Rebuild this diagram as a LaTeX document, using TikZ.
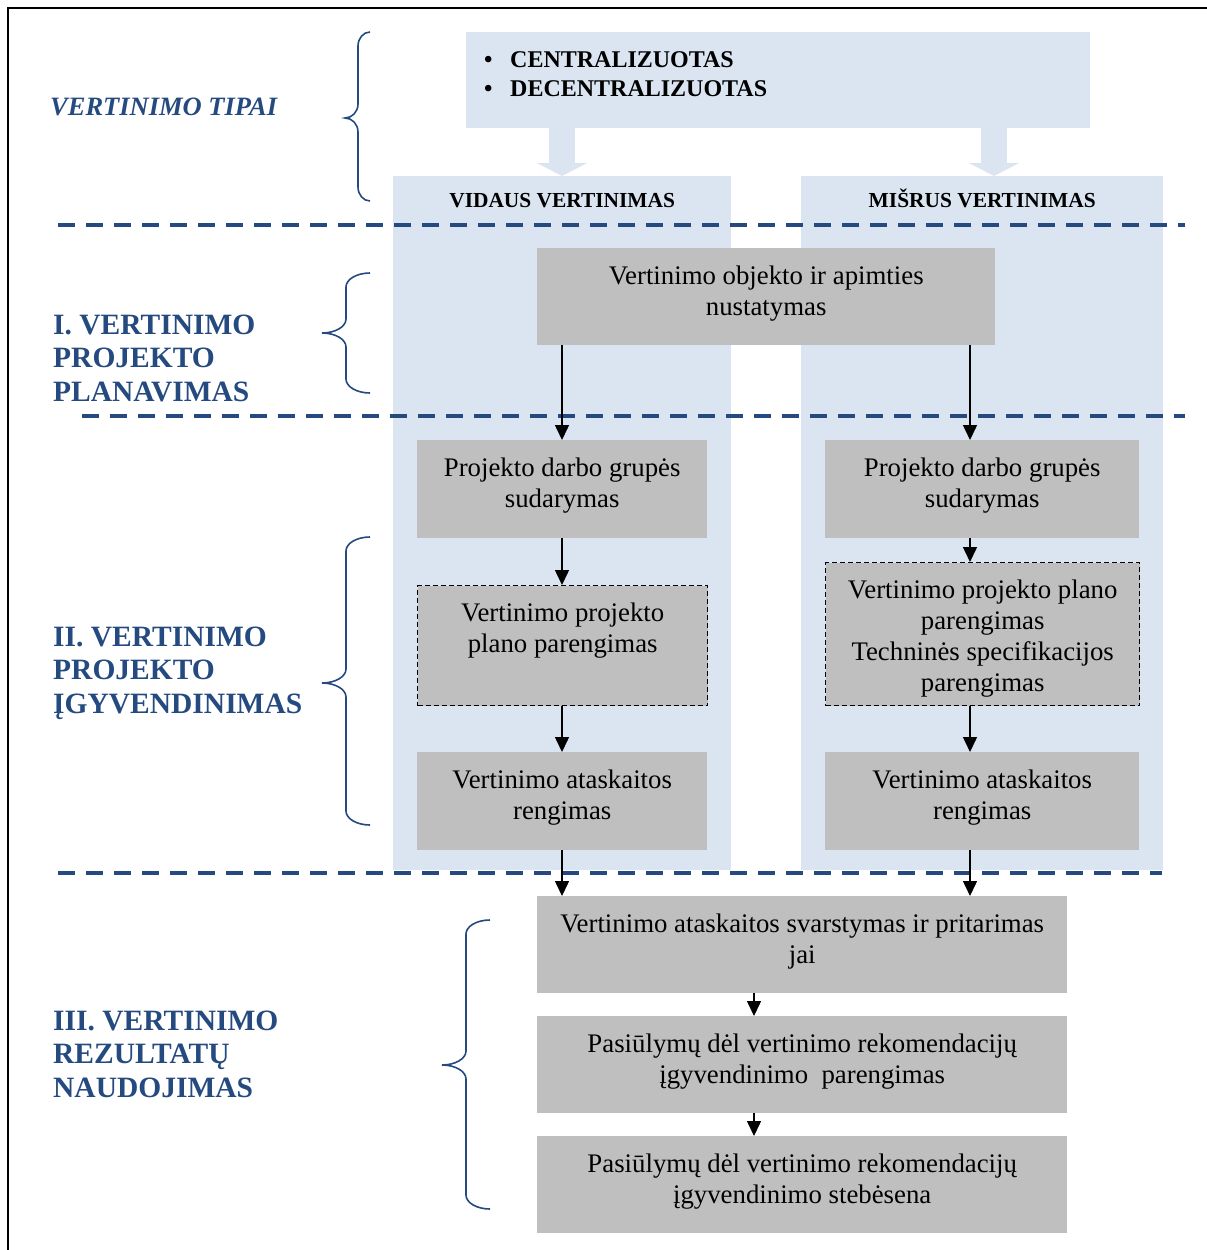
\documentclass[tikz,border=0pt]{standalone}
\usepackage{fontspec}
\setmainfont{Liberation Serif}
\usetikzlibrary{arrows.meta}
\definecolor{lb}{RGB}{219,229,241}
\definecolor{gr}{RGB}{191,191,191}
\definecolor{db}{RGB}{36,74,128}
\newcommand{\bodyfont}{\fontsize{26.8}{31}\selectfont}
\newcommand{\bxt}[3]{\parbox[t][#2][t]{#1}{\centering\bodyfont\rule{0pt}{36pt}#3\par}}
\newcommand{\mybrace}[6]{%
  \draw[brc] (#1,#4) .. controls ({#1-0.552*(#1-#2)},#4) and (#2,{#4+0.448*14}) .. (#2,{#4+14})
   -- (#2,{#5-14}) .. controls (#2,{#5-14+0.552*14}) and ({#3+0.552*(#2-#3)},#5) .. (#3,#5)
   .. controls ({#3+0.552*(#2-#3)},#5) and (#2,{#5+14-0.552*14}) .. (#2,{#5+14})
   -- (#2,{#6-14}) .. controls (#2,{#6-0.448*14}) and ({#1-0.552*(#1-#2)},#6) .. (#1,#6);}
\tikzset{
  gbox/.style={fill=gr, inner sep=0pt, anchor=north west},
  dbox/.style={gbox, draw=black, line width=1.4pt, dash pattern=on 5pt off 3pt},
  colbg/.style={fill=lb, inner sep=0pt, anchor=north west},
  arr/.style={line width=1.5pt, -{Triangle[width=14pt,length=15pt]}},
  blk/.style={line width=26pt, draw=lb, -{Triangle[width=50pt,length=13pt]}},
  divider/.style={draw=db, line width=3.5pt, dash pattern=on 17pt off 11pt},
  brc/.style={draw=db, line width=1.6pt},
  head/.style={anchor=base west, inner sep=0pt, text=db, font=\bfseries\fontsize{29.5}{33.5}\selectfont},
}
\begin{document}
\begin{tikzpicture}[x=1pt,y=-1pt]
\useasboundingbox (0,0) rectangle (1207,1250);
% frame
\draw[line width=2pt] (8,1250) -- (8,8) -- (1207,8);
% top box
\node[colbg, minimum width=624pt, minimum height=96pt] (top) at (466,32) {};
\node[anchor=base west, inner sep=0pt, font=\bfseries\fontsize{24}{29}\selectfont] (bul) at (484,67)
  {\parbox[t]{400pt}{\makebox[26pt][l]{•}CENTRALIZUOTAS\\\makebox[26pt][l]{•}DECENTRALIZUOTAS}};
% columns
\node[colbg, minimum width=338pt, minimum height=694pt] (colL) at (393,176) {};
\node[colbg, minimum width=362pt, minimum height=694pt] (colR) at (801,176) {};
% block arrows
\coordinate (xbl) at (562,0);
\coordinate (xbr) at (994,0);
\draw[blk] (top.south -| xbl) -- (colL.north -| xbl);
\draw[blk] (top.south -| xbr) -- (colR.north -| xbr);
% column headers
\node[anchor=base, inner sep=0pt, font=\bfseries\fontsize{21.4}{25}\selectfont] (hL) at ([yshift=-31pt]colL.north) {VIDAUS VERTINIMAS};
\node[anchor=base, inner sep=0pt, font=\bfseries\fontsize{21.4}{25}\selectfont] (hR) at ([yshift=-31pt]colR.north) {MIŠRUS VERTINIMAS};
% dividers
\draw[divider] (58,225) -- (1185,225);
\draw[divider] (82,416) -- (1185,416);
\draw[divider] (58,873) -- (1162,873);
% boxes
\node[gbox] (b1) at (537,248) {\bxt{458pt}{97pt}{Vertinimo objekto ir apimties\\nustatymas}};
\node[gbox] (A1) at (417,440) {\bxt{290pt}{98pt}{Projekto darbo grupės\\sudarymas}};
\node[dbox] (A2) at (417,585) {\bxt{290pt}{120pt}{Vertinimo projekto\\plano parengimas}};
\node[gbox] (A3) at (417,752) {\bxt{290pt}{98pt}{Vertinimo ataskaitos\\rengimas}};
\node[gbox] (B1) at (825,440) {\bxt{314pt}{98pt}{Projekto darbo grupės\\sudarymas}};
\node[dbox] (B2) at (825,562) {\bxt{314pt}{143pt}{Vertinimo projekto plano\\parengimas\\Techninės specifikacijos\\parengimas}};
\node[gbox] (B3) at (825,752) {\bxt{314pt}{98pt}{Vertinimo ataskaitos\\rengimas}};
\node[gbox] (C1) at (537,896) {\bxt{530pt}{97pt}{Vertinimo ataskaitos svarstymas ir pritarimas\\jai}};
\node[gbox] (C2) at (537,1016) {\bxt{530pt}{97pt}{Pasiūlymų dėl vertinimo rekomendacijų\\įgyvendinimo\ \ parengimas}};
\node[gbox] (C3) at (537,1136) {\bxt{530pt}{97pt}{Pasiūlymų dėl vertinimo rekomendacijų\\įgyvendinimo stebėsena}};
% arrows
\coordinate (xl) at (562,0);
\coordinate (xr) at (970,0);
\coordinate (xc) at (754,0);
\draw[arr] (b1.south -| xl) -- (A1.north -| xl);
\draw[arr] (b1.south -| xr) -- (B1.north -| xr);
\draw[arr] (A1.south -| xl) -- (A2.north -| xl);
\draw[arr] (A2.south -| xl) -- (A3.north -| xl);
\draw[arr] (A3.south -| xl) -- (C1.north -| xl);
\draw[arr] (B1.south -| xr) -- (B2.north -| xr);
\draw[arr] (B2.south -| xr) -- (B3.north -| xr);
\draw[arr] (B3.south -| xr) -- (C1.north -| xr);
\draw[arr] (C1.south -| xc) -- (C2.north -| xc);
\draw[arr] (C2.south -| xc) -- (C3.north -| xc);
% braces
\mybrace{370}{358}{345}{32}{118}{201}
\mybrace{370}{346}{322}{273}{333}{393}
\mybrace{370}{346}{322}{537}{683}{825}
\mybrace{490}{466}{442}{920}{1065}{1209}
% labels
\node[anchor=base west, inner sep=0pt, text=db, font=\bfseries\itshape\fontsize{26.5}{30}\selectfont] (tipai) at (50,115) {VERTINIMO TIPAI};
\node[head] (h1) at (53,334) {\parbox[t]{320pt}{\raggedright I. VERTINIMO\\PROJEKTO\\PLANAVIMAS}};
\node[head] (h2) at (53,646) {\parbox[t]{320pt}{\raggedright II. VERTINIMO\\PROJEKTO\\ĮGYVENDINIMAS}};
\node[head] (h3) at (53,1030) {\parbox[t]{320pt}{\raggedright III. VERTINIMO\\REZULTATŲ\\NAUDOJIMAS}};
\end{tikzpicture}
\end{document}
